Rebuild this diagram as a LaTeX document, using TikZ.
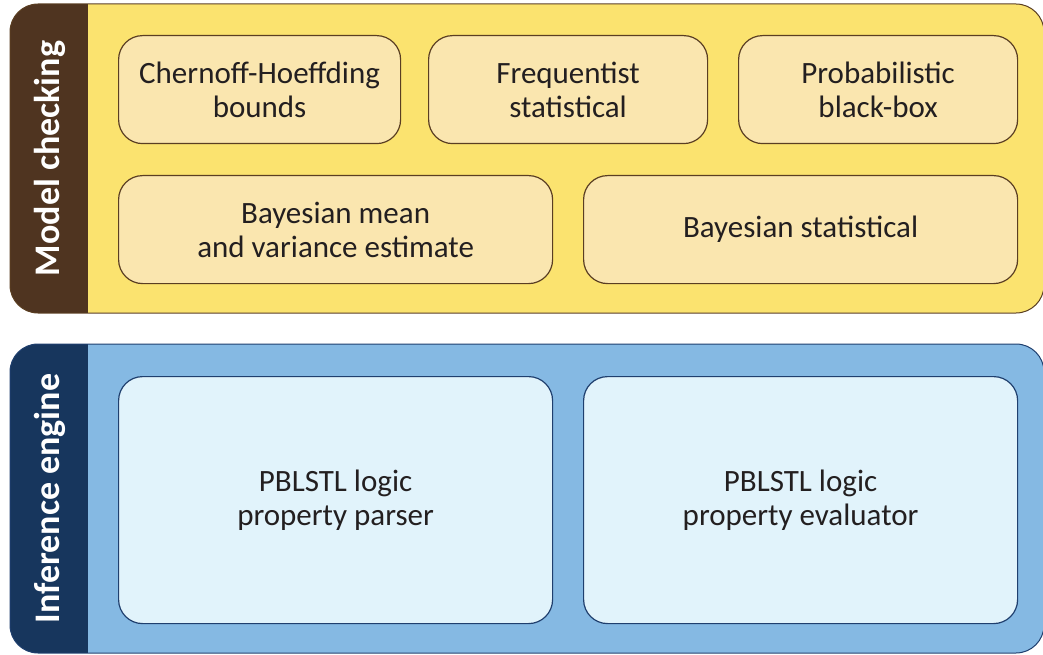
\documentclass[tikz,border=0pt]{standalone}
\usepackage{fontspec}
\setmainfont{Carlito}
\definecolor{ybg}{HTML}{FBE36F}
\definecolor{ybox}{HTML}{FAE6AF}
\definecolor{yline}{HTML}{5A3E22}
\definecolor{ystrip}{HTML}{4F3420}
\definecolor{bbg}{HTML}{85B9E3}
\definecolor{bbox}{HTML}{E1F3FB}
\definecolor{bline}{HTML}{1F3F6E}
\definecolor{bstrip}{HTML}{17365D}
\definecolor{txt}{HTML}{231F20}
\begin{document}
\begin{tikzpicture}[x=1pt,y=-1pt,
  ibox/.style={draw, line width=1.2pt, rounded corners=24pt, anchor=north west, align=center,
    inner sep=0pt, font=\fontsize{31}{34}\selectfont, text=txt},
  ylw/.style={ibox, draw=yline, fill=ybox},
  blu/.style={ibox, draw=bline, fill=bbox},
  side/.style={rotate=90, text=white, font=\fontsize{36}{40}\selectfont\bfseries}]
\useasboundingbox (0,0) rectangle (1043,655);
% yellow panel
\begin{scope}
\clip[rounded corners=28pt] (10,4) rectangle (1044,313);
\fill[ybg] (10,4) rectangle (1044,313);
\fill[ystrip] (10,4) rectangle (88,313);
\end{scope}
\draw[yline, line width=1pt, rounded corners=28pt] (10,4) rectangle (1044,313);
% blue panel
\begin{scope}
\clip[rounded corners=28pt] (10,344) rectangle (1044,653);
\fill[bbg] (10,344) rectangle (1044,653);
\fill[bstrip] (10,344) rectangle (88,653);
\end{scope}
\draw[bline, line width=1pt, rounded corners=28pt] (10,344) rectangle (1044,653);
% side labels
\node[side] (mc) at (50,158.5) {Model checking};
\node[side] (ie) at (50,498.5) {Inference engine};
% model checking boxes
\node[ylw, minimum width=282pt, minimum height=108pt] (ch) at (118,35) {Chernoff-Hoeffding\\bounds};
\node[ylw, minimum width=279pt, minimum height=108pt] (fr) at (428,35) {Frequentist\\statistical};
\node[ylw, minimum width=279pt, minimum height=108pt] (pb) at (738,35) {Probabilistic\\black-box};
\node[ylw, minimum width=434pt, minimum height=108pt] (bm) at (118,175) {Bayesian mean\\and variance estimate};
\node[ylw, minimum width=434pt, minimum height=108pt] (bs) at (583,175) {Bayesian statistical};
% inference boxes
\node[blu, minimum width=434pt, minimum height=247pt] (pp) at (118,376) {PBLSTL logic\\property parser};
\node[blu, minimum width=434pt, minimum height=247pt] (pe) at (583,376) {PBLSTL logic\\property evaluator};
\end{tikzpicture}
\end{document}
